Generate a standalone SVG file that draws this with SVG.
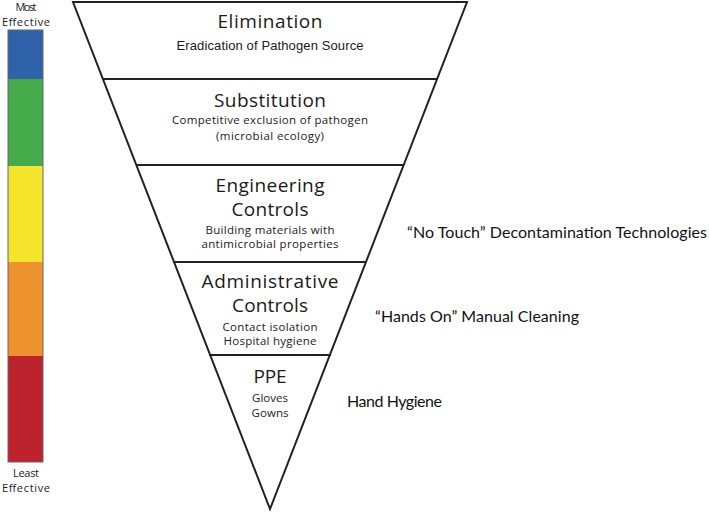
<svg xmlns="http://www.w3.org/2000/svg" width="709" height="517" viewBox="0 0 709 517">
<style>
.t{font-family:"Open Sans","DejaVu Sans",sans-serif;fill:#1a1a1a;text-anchor:middle}
.h{font-size:19px}
.s{font-size:11.5px}
.a{font-family:"Liberation Sans",Arial,sans-serif;font-size:13px;fill:#1a1a1a;text-anchor:middle}
.r{font-family:Lato,"Open Sans",sans-serif;font-size:16px;fill:#111}
.b{font-family:"Open Sans","DejaVu Sans",sans-serif;font-size:11px;fill:#1a1a1a;text-anchor:middle}
.ln{stroke:#222;stroke-width:2;fill:none}
</style>
<rect width="709" height="517" fill="#fff"/>
<g id="scale">
<rect x="8" y="30" width="35" height="49" fill="#2f62a9"/>
<rect x="8" y="79" width="35" height="87" fill="#45ab4a"/>
<rect x="8" y="166" width="35" height="96" fill="#f4e42c"/>
<rect x="8" y="262" width="35" height="94" fill="#ed922c"/>
<rect x="8" y="356" width="35" height="106" fill="#bd232e"/>
<rect x="8" y="30" width="35" height="432" fill="none" stroke="#666" stroke-width="1"/>
<text class="b" x="26" y="11" textLength="21">Most</text>
<text class="b" x="26" y="26" textLength="48">Effective</text>
<text class="b" x="26" y="477" textLength="26">Least</text>
<text class="b" x="26" y="492" textLength="48">Effective</text>
</g>
<g id="connectors">
<polygon class="ln" points="73,2 467,2 270,509" stroke-linejoin="miter"/>
<line class="ln" x1="103" y1="79" x2="437" y2="79"/>
<line class="ln" x1="136" y1="165" x2="404" y2="165"/>
<line class="ln" x1="174" y1="262" x2="366" y2="262"/>
<line class="ln" x1="209" y1="355" x2="331" y2="355"/>
</g>
<g id="elimination">
<text class="t h" x="270" y="28" textLength="105">Elimination</text>
<text class="a" x="270" y="50" textLength="187">Eradication of Pathogen Source</text>
</g>
<g id="substitution">
<text class="t h" x="270" y="107" textLength="112">Substitution</text>
<text class="t s" x="270" y="124" textLength="196">Competitive exclusion of pathogen</text>
<text class="t s" x="270" y="140" textLength="108">(microbial ecology)</text>
</g>
<g id="engineering">
<text class="t h" x="270" y="192" textLength="109">Engineering</text>
<text class="t h" x="270" y="216" textLength="77">Controls</text>
<text class="t s" x="270" y="234" textLength="129">Building materials with</text>
<text class="t s" x="270" y="248" textLength="137">antimicrobial properties</text>
</g>
<g id="administrative">
<text class="t h" x="270" y="288" textLength="137">Administrative</text>
<text class="t h" x="270" y="312" textLength="76">Controls</text>
<text class="t s" x="270" y="331" textLength="95">Contact isolation</text>
<text class="t s" x="270" y="345" textLength="93">Hospital hygiene</text>
</g>
<g id="ppe">
<text class="t h" x="270" y="383" textLength="33">PPE</text>
<text class="t s" x="270" y="402" textLength="36">Gloves</text>
<text class="t s" x="270" y="417" textLength="37">Gowns</text>
</g>
<g id="no-touch">
<text class="r" x="407" y="238" textLength="300">“No Touch” Decontamination Technologies</text>
</g>
<g id="hands-on">
<text class="r" x="375" y="322" textLength="204">“Hands On” Manual Cleaning</text>
</g>
<g id="hand-hygiene">
<text class="r" x="347" y="407" textLength="95">Hand Hygiene</text>
</g>
</svg>
